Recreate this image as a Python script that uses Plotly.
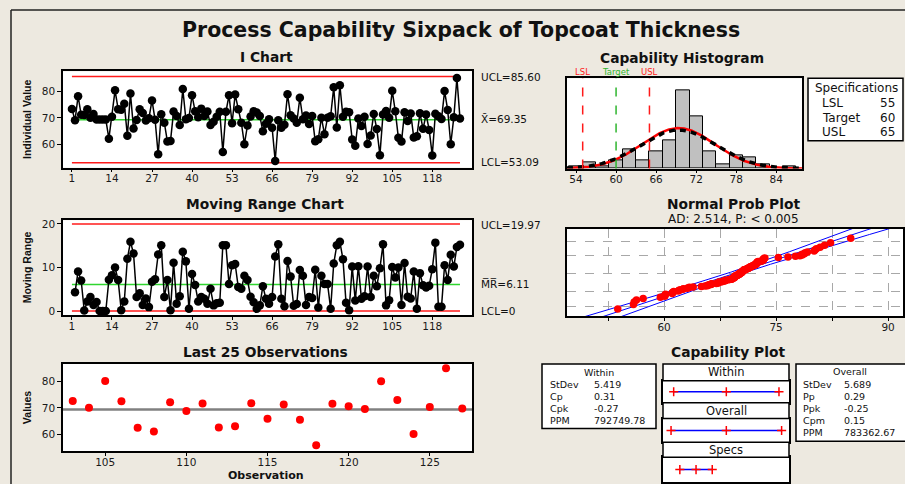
import numpy as np
import plotly.graph_objects as go
from statistics import NormalDist

W, H = 905, 484
FONT = "DejaVu Sans"
BG = "#EDE9E0"

# ---------------- data ----------------
individual = [
    73.4, 69.1, 78.2, 71.2, 71.1, 73.3, 70.1, 71.5, 69.4, 69.4,
    69.4, 69.4, 62.2, 70.4, 80.4, 73.3, 73.1, 75.3, 63.3, 79.2,
    66.0, 69.2, 73.3, 71.9, 69.0, 69.9, 76.6, 69.3, 56.3, 71.4,
    68.2, 61.1, 61.3, 72.4, 70.7, 67.3, 80.9, 69.5, 70.0, 78.5,
    72.5, 70.3, 73.5, 70.7, 72.4, 67.3, 68.6, 70.4, 72.3, 57.2,
    72.3, 78.5, 68.0, 78.8, 73.3, 68.2, 60.1, 67.2, 70.5, 72.5,
    72.0, 70.7, 65.0, 67.8, 69.5, 66.3, 53.8, 69.1, 66.3, 67.4,
    78.9, 71.0, 69.8, 68.2, 77.6, 69.5, 70.9, 67.7, 70.7, 61.2,
    62.0, 70.1, 63.9, 70.1, 70.6, 81.5, 66.4, 82.3, 70.4, 72.3,
    72.1, 61.9, 59.5, 69.8, 67.0, 70.4, 60.2, 63.4, 71.5, 65.8,
    56.0, 71.3, 72.6, 70.1, 80.2, 72.5, 62.5, 61.1, 72.1, 68.8,
    71.7, 62.6, 63.1, 71.8, 65.9, 71.3, 65.5, 55.9, 71.6, 70.6,
    69.6, 80.1, 73.0, 60.1, 70.3, 85.0, 69.8,
]
observation = list(range(1, len(individual) + 1))

i_ucl, i_center, i_lcl = 85.60, 69.35, 53.09
mr_ucl, mr_center, mr_lcl = 19.97, 6.11, 0.0

i_ticks = [1, 14, 27, 40, 53, 66, 79, 92, 105, 118]
last25_ticks = [105, 110, 115, 120, 125]
hist_ticks = [54, 60, 66, 72, 78, 84]
prob_grid_x = [52.5, 60, 67.5, 75, 82.5, 90]
prob_tick_text = ["", "60", "", "75", "", "90"]
prob_grid_pct = [0.01, 0.10, 0.50, 0.90, 0.99]

spec_labels = ["LSL", "Target", "USL"]
spec_values = [55, 60, 65]
stdev_within, stdev_overall = 5.419, 5.689

within_labels = ["StDev", "Cp", "Cpk", "PPM"]
within_values = ["5.419", "0.31", "-0.27", "792749.78"]
overall_labels = ["StDev", "Pp", "Ppk", "Cpm", "PPM"]
overall_values = ["5.689", "0.29", "-0.25", "0.15", "783362.67"]
ad_text = "AD: 2.514, P: < 0.005"

# ---------------- helpers ----------------
def dx(x0, x1):
    return [x0 / W, x1 / W]

def dy(y0, y1):
    return [1 - y1 / H, 1 - y0 / H]

def px(x):
    return x / W

def py(y):
    return 1 - y / H

annotations = []
shapes = []

def text(x, y, s, size=10.5, bold=False, xanchor="center", color="#111", family=FONT, angle=0):
    annotations.append(dict(
        x=px(x), y=py(y), xref="paper", yref="paper", showarrow=False,
        text=("<b>%s</b>" % s) if bold else s, xanchor=xanchor, yanchor="middle",
        textangle=angle, font=dict(family=family, size=size, color=color)))

def rect(x0, y0, x1, y1, width=1.5):
    shapes.append(dict(type="rect", xref="paper", yref="paper",
                       x0=px(x0), x1=px(x1), y0=py(y1), y1=py(y0),
                       line=dict(color="black", width=width), fillcolor="white", layer="above"))

base = dict(showline=True, mirror=True, linecolor="black", linewidth=1.5, showgrid=False,
            zeroline=False, ticks="outside", ticklen=4, tickwidth=1, tickcolor="black",
            tickfont=dict(family=FONT, size=10.5, color="#1a1a1a"), fixedrange=True)

def ax(**kw):
    d = dict(base)
    d.update(kw)
    return d

def xax(**kw):
    d = dict(base)
    d.update(dict(ticklen=3, ticklabelstandoff=-3))
    d.update(kw)
    return d

fig = go.Figure()
n = len(individual)
first, last = observation[0], observation[-1]
RED, GREEN = "#FF1A1A", "#2FD52F"

# ---------------- I chart ----------------
for val, col in [(i_ucl, RED), (i_center, GREEN), (i_lcl, RED)]:
    fig.add_trace(go.Scatter(x=[first, last], y=[val, val], mode="lines",
                             line=dict(color=col, width=1.5), xaxis="x", yaxis="y", hoverinfo="skip"))
fig.add_trace(go.Scatter(x=observation, y=individual, mode="lines+markers",
                         line=dict(color="black", width=1.5),
                         marker=dict(color="black", size=8.5), xaxis="x", yaxis="y"))

# ---------------- MR chart ----------------
mr = np.abs(np.diff(np.array(individual)))
for val, col in [(mr_ucl, RED), (mr_center, GREEN), (mr_lcl, RED)]:
    fig.add_trace(go.Scatter(x=[first, last], y=[val, val], mode="lines",
                             line=dict(color=col, width=1.5), xaxis="x2", yaxis="y2", hoverinfo="skip"))
fig.add_trace(go.Scatter(x=observation[1:], y=mr, mode="lines+markers",
                         line=dict(color="black", width=1.5),
                         marker=dict(color="black", size=8.5), xaxis="x2", yaxis="y2"))

# ---------------- Last 25 ----------------
fig.add_trace(go.Scatter(x=[102.4, 127.6], y=[i_center, i_center], mode="lines",
                         line=dict(color="#808080", width=2.5), xaxis="x3", yaxis="y3"))
fig.add_trace(go.Scatter(x=observation[-25:], y=individual[-25:], mode="markers",
                         marker=dict(color="#FF0000", size=8), xaxis="x3", yaxis="y3"))

# ---------------- Histogram ----------------
bin_edges = np.arange(53, 89, 2)
counts, _ = np.histogram(individual, bins=bin_edges)
hist_ymax = counts.max() / 0.865
fig.add_trace(go.Histogram(x=individual, xbins=dict(start=53, end=87, size=2), autobinx=False,
                           marker=dict(color="#C0C0C0", line=dict(color="black", width=1)),
                           xaxis="x4", yaxis="y4"))
xs = np.linspace(52.65, 87.85, 300)
nd_w = NormalDist(i_center, stdev_within)
nd_o = NormalDist(i_center, stdev_overall)
fig.add_trace(go.Scatter(x=xs, y=[n * 2 * nd_w.pdf(v) for v in xs], mode="lines",
                         line=dict(color="#FF0000", width=2.5), xaxis="x4", yaxis="y4"))
fig.add_trace(go.Scatter(x=xs, y=[n * 2 * nd_o.pdf(v) for v in xs], mode="lines",
                         line=dict(color="black", width=3.5, dash="6px,5px"), xaxis="x4", yaxis="y4"))
spec_colors = [RED, "#2FB52F", RED]
for lab, v, c in zip(spec_labels, spec_values, spec_colors):
    shapes.append(dict(type="line", xref="x4", yref="y4 domain", x0=v, x1=v, y0=0, y1=1,
                       line=dict(color=c, width=1.5, dash="dash")))
    annotations.append(dict(x=v, xref="x4", y=py(70), yref="paper", text=lab, showarrow=False,
                            xanchor="center", yanchor="middle",
                            font=dict(family=FONT, size=8.5, color=c)))

# ---------------- Normal probability plot ----------------
std_norm = NormalDist()
sorted_vals = sorted(individual)
zs = [std_norm.inv_cdf((i + 1 - 0.3) / (n + 0.4)) for i in range(n)]
zline = np.linspace(-3.6, 3.6, 200)
center_x = i_center + stdev_overall * zline
half = 1.96 * stdev_overall * np.sqrt(1.0 / n + zline ** 2 / (2 * (n - 1)))
for xl in [center_x - half, center_x, center_x + half]:
    fig.add_trace(go.Scatter(x=xl, y=zline, mode="lines", line=dict(color="#0000FF", width=1),
                             xaxis="x5", yaxis="y5"))
fig.add_trace(go.Scatter(x=sorted_vals, y=zs, mode="markers",
                         marker=dict(color="#FF0000", size=7.5), xaxis="x5", yaxis="y5"))
prob_grid_z = [std_norm.inv_cdf(p) for p in prob_grid_pct]

# ---------------- Capability plot strips ----------------
cap_range = [49.8, 88.7]
strips = [
    ("x6", "y6", [i_center - 3 * stdev_within, i_center, i_center + 3 * stdev_within]),
    ("x7", "y7", [i_center - 3 * stdev_overall, i_center, i_center + 3 * stdev_overall]),
    ("x8", "y8", spec_values),
]
for xa, ya, pts in strips:
    fig.add_trace(go.Scatter(x=[pts[0], pts[-1]], y=[0.5, 0.5], mode="lines",
                             line=dict(color="#0000FF", width=1.5), xaxis=xa, yaxis=ya))
    fig.add_trace(go.Scatter(x=pts, y=[0.5] * len(pts), mode="markers",
                             marker=dict(symbol="cross-thin", size=6.5,
                                         line=dict(color="#FF0000", width=1.5)),
                             xaxis=xa, yaxis=ya))

# ---------------- layout axes ----------------
layout_axes = dict(
    xaxis=xax(domain=dx(63, 472), range=[-1.9, 130.9], tickvals=i_ticks, anchor="y"),
    yaxis=ax(domain=dy(69, 166), range=[51.3, 87.5], tickvals=[60, 70, 80], anchor="x"),
    xaxis2=xax(domain=dx(63, 472), range=[-1.9, 130.9], tickvals=i_ticks, anchor="y2"),
    yaxis2=ax(domain=dy(219, 315), range=[-1.0, 20.85], tickvals=[0, 10, 20], anchor="x2"),
    xaxis3=xax(domain=dx(63, 472), range=[102.4, 127.6], tickvals=last25_ticks, anchor="y3"),
    yaxis3=ax(domain=dy(364, 452), range=[53.6, 86.6], tickvals=[60, 70, 80], anchor="x3"),
    xaxis4=xax(domain=dx(567, 802), range=[52.65, 87.85], tickvals=hist_ticks, anchor="y4"),
    yaxis4=ax(domain=dy(76, 167), range=[0, hist_ymax], ticks="", showticklabels=False, anchor="x4"),
    xaxis5=xax(domain=dx(567, 903), range=[47, 92], tickvals=prob_grid_x, ticktext=prob_tick_text,
               showgrid=True, griddash="dash", gridcolor="#A8A8A8", gridwidth=1, anchor="y5"),
    yaxis5=ax(domain=dy(228, 316), range=[-3.07, 3.19], tickvals=prob_grid_z, ticks="",
              showticklabels=False, showgrid=True, griddash="dash", gridcolor="#A8A8A8",
              gridwidth=1, anchor="x5"),
)
for k, (y0, y1) in zip([6, 7, 8], [(381, 403), (419, 443), (458, 483)]):
    layout_axes["xaxis%d" % k] = ax(domain=dx(663, 789), range=cap_range, ticks="",
                                    showticklabels=False, anchor="y%d" % k)
    layout_axes["yaxis%d" % k] = ax(domain=dy(y0, y1), range=[0, 1], ticks="",
                                    showticklabels=False, anchor="x%d" % k)

# ---------------- texts ----------------
text(461.5, 27, "Process Capability Sixpack of Topcoat Thickness", size=20.5, bold=True)
text(266, 54, "I Chart", size=13.8, bold=True)
text(265, 203, "Moving Range Chart", size=13.8, bold=True)
text(265.5, 351.5, "Last 25 Observations", size=13.8, bold=True)
text(682, 55, "Capability Histogram", size=13.8, bold=True)
text(733, 202.5, "Normal Prob Plot", size=13.8, bold=True)
text(733, 217.5, ad_text, size=12)
text(728, 351.5, "Capability Plot", size=13.8, bold=True)

text(479, 74.5, "UCL=%.2f" % i_ucl, size=10.5, xanchor="left")
text(479, 116.5, "X\u0304=%.2f" % i_center, size=10.5, xanchor="left")
text(479, 160, "LCL=%.2f" % i_lcl, size=10.5, xanchor="left")
text(479, 223.5, "UCL=%.2f" % mr_ucl, size=10.5, xanchor="left")
text(479, 283.5, "M\u0305R\u0305=%.2f" % mr_center, size=10.5, xanchor="left")
text(479, 310.5, "LCL=%g" % mr_lcl, size=10.5, xanchor="left")

text(26.5, 117.5, "Individual Value", size=10.5, bold=True, family="Liberation Sans", angle=-90)
text(26.5, 267, "Moving Range", size=10.5, bold=True, family="Liberation Sans", angle=-90)
text(26.5, 408, "Values", size=10.5, bold=True, family="Liberation Sans", angle=-90)
text(266, 476, "Observation", size=11, bold=True)

# specification box
rect(808, 76, 903, 139)
text(813, 86, "Specifications", size=12, xanchor="left")
for i, (lab, v) in enumerate(zip(spec_labels, spec_values)):
    text(820, 100.5 + 15 * i, lab, size=12, xanchor="left")
    text(878, 100.5 + 15 * i, str(v), size=12, xanchor="left")

# capability stats boxes
rect(542, 364, 656, 429)
text(599, 372.5, "Within", size=9.5)
for i, (lab, v) in enumerate(zip(within_labels, within_values)):
    text(548, 384.5 + 12.3 * i, lab, size=9.5, xanchor="left")
    text(592, 384.5 + 12.3 * i, v, size=9.5, xanchor="left")
rect(796, 364, 907, 442)
text(850, 371.5, "Overall", size=9.5)
for i, (lab, v) in enumerate(zip(overall_labels, overall_values)):
    text(801, 385 + 12.1 * i, lab, size=9.5, xanchor="left")
    text(842, 385 + 12.1 * i, v, size=9.5, xanchor="left")

# capability strip headers
for (y0, y1), lab in zip([(364, 381), (403, 419), (443, 458)], ["Within", "Overall", "Specs"]):
    rect(663, y0, 789, y1)
    text(726, (y0 + y1) / 2, lab, size=11.5)

# outer frame
shapes.append(dict(type="line", xref="paper", yref="paper", x0=px(11), x1=px(906), y0=py(7), y1=py(7),
                   line=dict(color="#222", width=1.5)))
shapes.append(dict(type="line", xref="paper", yref="paper", x0=px(11), x1=px(11), y0=py(7), y1=py(490),
                   line=dict(color="#222", width=1.5)))

fig.update_layout(
    width=W, height=H, margin=dict(l=0, r=0, t=0, b=0, pad=0),
    paper_bgcolor=BG, plot_bgcolor="white", showlegend=False, bargap=0,
    font=dict(family=FONT, size=10.5, color="#111"),
    annotations=annotations, shapes=shapes, hovermode=False,
    **layout_axes,
)

fig.write_html("out.html")
